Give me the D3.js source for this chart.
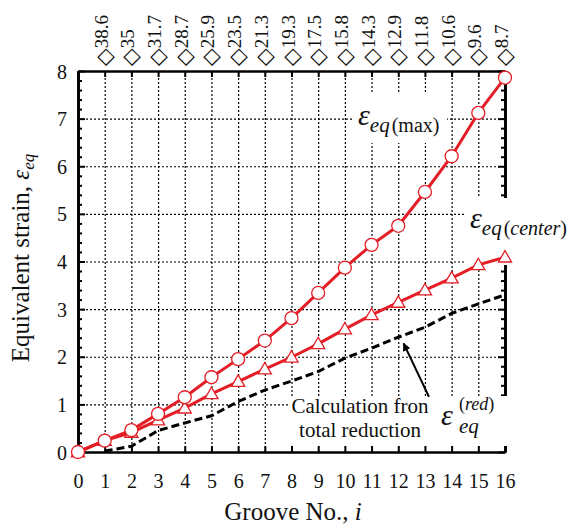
<!DOCTYPE html>
<html>
<head>
<meta charset="utf-8">
<script src="https://cdn.jsdelivr.net/npm/d3@7"></script>
<style>
  body { margin: 0; background: #fff; }
  text { font-family: "Liberation Serif", "Times New Roman", serif; fill: #111; }
</style>
</head>
<body>
<script>
// data
var groove = [0,1,2,3,4,5,6,7,8,9,10,11,12,13,14,15,16];
var epsMax = [0,0.24,0.46,0.80,1.15,1.57,1.95,2.34,2.81,3.34,3.87,4.35,4.75,5.46,6.21,7.12,7.86];
var epsCenter = [0,0.24,0.41,0.67,0.92,1.22,1.48,1.74,1.99,2.27,2.58,2.88,3.14,3.40,3.65,3.93,4.09];
var epsRed = [null,0.02,0.12,0.45,0.61,0.76,1.06,1.30,1.49,1.69,1.97,2.18,2.41,2.62,2.91,3.11,3.30];
var topLabels = ["38.6","35","31.7","28.7","25.9","23.5","21.3","19.3","17.5","15.8","14.3","12.9","11.8","10.6","9.6","8.7"];
var yTicks = [0,1,2,3,4,5,6,7,8];

var W = 576, H = 530;
var margin = {top: 71, right: 71, bottom: 78, left: 78},
    width = W - margin.left - margin.right,
    height = H - margin.top - margin.bottom;

var red = "#e41e26";

var x = d3.scaleLinear().domain([0, 16]).range([0, width]);
var y = d3.scaleLinear().domain([0, 8]).range([height, 0]);

var svg = d3.select("body").append("svg")
    .attr("width", W)
    .attr("height", H)
  .append("g")
    .attr("transform", "translate(" + margin.left + "," + margin.top + ")");

var minor = d3.range(0, 8.01, 0.2).filter(function(v) { return Math.abs(v - Math.round(v)) > 0.01; });

// dotted grid
svg.append("g")
    .attr("class", "grid")
    .call(d3.axisLeft(y).tickValues(yTicks.slice(1, 8)).tickSize(-width).tickFormat(""))
    .call(function(g) { g.select(".domain").remove(); });
svg.append("g")
    .attr("class", "grid")
    .attr("transform", "translate(0," + height + ")")
    .call(d3.axisBottom(x).tickValues(groove.slice(1, 16)).tickSize(-height).tickFormat(""))
    .call(function(g) { g.select(".domain").remove(); });
svg.selectAll(".grid line")
    .attr("stroke", "#000")
    .attr("stroke-width", 1.2)
    .attr("stroke-dasharray", "2,2");

// axes, ticks pointing inward
var xb = svg.append("g")
    .attr("transform", "translate(0," + height + ")")
    .call(d3.axisBottom(x).tickValues(groove).tickSizeInner(-6).tickSizeOuter(0).tickPadding(22));
var xt = svg.append("g")
    .call(d3.axisTop(x).tickValues(groove).tickSizeInner(-6).tickSizeOuter(0).tickFormat(""));
var yl = svg.append("g")
    .call(d3.axisLeft(y).tickValues(yTicks).tickSizeInner(-7).tickSizeOuter(0).tickPadding(11));
var yr = svg.append("g")
    .attr("transform", "translate(" + width + ",0)")
    .call(d3.axisRight(y).tickValues(yTicks).tickSizeInner(-7).tickSizeOuter(0).tickFormat(""));
var ylm = svg.append("g")
    .call(d3.axisLeft(y).tickValues(minor).tickSizeInner(-4).tickSizeOuter(0).tickFormat(""));
var yrm = svg.append("g")
    .attr("transform", "translate(" + width + ",0)")
    .call(d3.axisRight(y).tickValues(minor).tickSizeInner(-4).tickSizeOuter(0).tickFormat(""));

[xb, xt, yl, yr, ylm, yrm].forEach(function(g) {
  g.select(".domain").attr("stroke", "#000").attr("stroke-width", 2.6);
  g.selectAll(".tick line").attr("stroke", "#000").attr("stroke-width", 2);
  g.selectAll("text")
    .style("font-family", "'Liberation Serif', serif")
    .style("font-size", "20px")
    .attr("fill", "#111");
});
yl.selectAll("text").attr("dy", "0.35em");

// white boxes behind the labels (they cut the right axis)
svg.append("rect").attr("x", 275).attr("y", 22).attr("width", 94).attr("height", 50).attr("fill", "#fff");
svg.append("rect").attr("x", 387).attr("y", 127).attr("width", 120).attr("height", 67).attr("fill", "#fff");
svg.append("rect").attr("x", 210).attr("y", 325).attr("width", 300).attr("height", 50).attr("fill", "#fff");

// top labels: diamond + value, rotated
xt.selectAll(".lbl")
  .data(topLabels)
  .enter().append("text")
    .attr("class", "lbl")
    .attr("text-anchor", "start")
    .attr("transform", function(d, i) { return "translate(" + (x(i + 1) + 3) + ",-5) rotate(-90)"; })
    .style("font-size", "19px")
    .style("font-family", "'Liberation Serif', serif")
    .attr("fill", "#111")
    .call(function(t) {
      t.append("tspan").attr("dy", 4).style("font-family", "'DejaVu Sans', sans-serif").style("font-size", "23px").text("\u25C7");
      t.append("tspan").attr("dy", -4).text(function(d) { return d; });
    });

// series
var line = d3.line()
    .defined(function(d) { return d[1] != null; })
    .x(function(d) { return x(d[0]); })
    .y(function(d) { return y(d[1]); });

svg.append("path")
    .datum(groove.map(function(g, i) { return [g, epsRed[i]]; }))
    .attr("d", line)
    .attr("fill", "none")
    .attr("stroke", "#000")
    .attr("stroke-width", 3)
    .attr("stroke-dasharray", "8,4");

svg.append("path")
    .datum(groove.map(function(g, i) { return [g, epsCenter[i]]; }))
    .attr("d", line)
    .attr("fill", "none")
    .attr("stroke", red)
    .attr("stroke-width", 3);

svg.append("path")
    .datum(groove.map(function(g, i) { return [g, epsMax[i]]; }))
    .attr("d", line)
    .attr("fill", "none")
    .attr("stroke", red)
    .attr("stroke-width", 3);

svg.selectAll(".tri")
  .data(groove)
  .enter().append("path")
    .attr("class", "tri")
    .attr("d", d3.symbol(d3.symbolTriangle, 75))
    .attr("transform", function(d, i) { return "translate(" + x(d) + "," + (y(epsCenter[i]) + 1) + ")"; })
    .attr("fill", "#fff")
    .attr("stroke", red)
    .attr("stroke-width", 1.3);

svg.selectAll(".circ")
  .data(groove)
  .enter().append("circle")
    .attr("class", "circ")
    .attr("cx", function(d) { return x(d); })
    .attr("cy", function(d, i) { return y(epsMax[i]); })
    .attr("r", 6.5)
    .attr("fill", "#fff")
    .attr("stroke", red)
    .attr("stroke-width", 1.3);

// series labels
function epsLabel(px, py, sub, par, parItalic) {
  var t = svg.append("text").attr("x", px).attr("y", py);
  t.append("tspan").style("font-style", "italic").style("font-size", "30px").text("\u03B5");
  t.append("tspan").attr("dy", 7).style("font-style", "italic").style("font-size", "21px").text(sub);
  t.append("tspan").attr("dx", 2).style("font-size", "20px").text("(");
  t.append("tspan").style("font-size", "20px").style("font-style", parItalic ? "italic" : "normal").text(par);
  t.append("tspan").style("font-size", "20px").text(")");
}
epsLabel(280, 54, "eq", "max", false);
epsLabel(392, 157, "eq", "center", true);

// eps_eq^(red): sub- and superscript stacked, kept as separate texts
svg.append("text").attr("x", 363).attr("y", 354)
    .style("font-style", "italic").style("font-size", "30px").text("\u03B5");
svg.append("text").attr("x", 381).attr("y", 339)
    .style("font-size", "18px")
    .call(function(t) {
      t.append("tspan").text("(");
      t.append("tspan").style("font-style", "italic").text("red");
      t.append("tspan").text(")");
    });
svg.append("text").attr("x", 381).attr("y", 362)
    .style("font-style", "italic").style("font-size", "21px").text("eq");

svg.append("text")
    .attr("x", 282).attr("y", 342)
    .attr("text-anchor", "middle")
    .style("font-size", "21px")
    .text("Calculation fron");
svg.append("text")
    .attr("x", 282).attr("y", 366)
    .attr("text-anchor", "middle")
    .style("font-size", "21px")
    .text("total reduction");

// arrow to the dashed line
svg.append("defs").append("marker")
    .attr("id", "head")
    .attr("viewBox", "0 0 10 10")
    .attr("refX", 9).attr("refY", 5)
    .attr("markerWidth", 10).attr("markerHeight", 8)
    .attr("markerUnits", "userSpaceOnUse")
    .attr("orient", "auto")
  .append("path")
    .attr("d", "M0,0L10,5L0,10Z")
    .attr("fill", "#000");
svg.append("line")
    .attr("x1", x(13.15)).attr("y1", y(1.16))
    .attr("x2", x(12.2)).attr("y2", y(2.28))
    .attr("stroke", "#000")
    .attr("stroke-width", 2)
    .attr("marker-end", "url(#head)");

// axis titles
svg.append("text")
    .attr("x", 215).attr("y", height + 68)
    .attr("text-anchor", "middle")
    .style("font-size", "25px")
    .call(function(t) {
      t.append("tspan").text("Groove No., ");
      t.append("tspan").style("font-style", "italic").text("i");
    });

svg.append("text")
    .attr("transform", "translate(" + (-49) + "," + (258 - margin.top) + ") rotate(-90)")
    .attr("text-anchor", "middle")
    .style("font-size", "25px")
    .call(function(t) {
      t.append("tspan").text("Equivalent strain, ");
      t.append("tspan").style("font-style", "italic").text("\u03B5");
      t.append("tspan").attr("dy", 5).style("font-style", "italic").style("font-size", "17px").text("eq");
    });
</script>
</body>
</html>
